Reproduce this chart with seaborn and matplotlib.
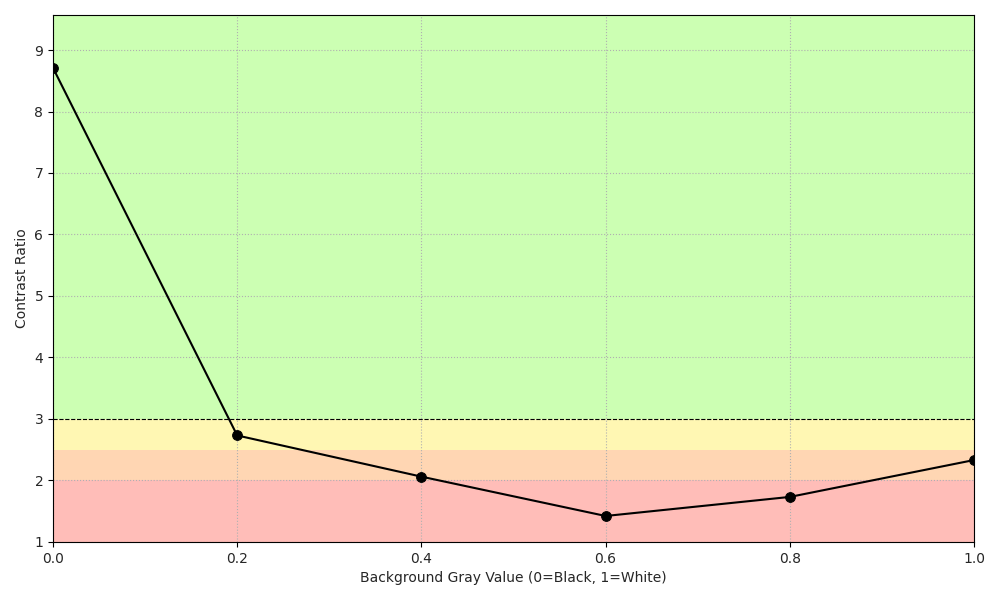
import matplotlib
matplotlib.use("Agg")
import matplotlib.pyplot as plt
import seaborn as sns
import pandas as pd

gray = [0.0, 0.2, 0.4, 0.6, 0.8, 1.0]
contrast = [8.71, 2.73, 2.06, 1.42, 1.73, 2.33]
bands = [(1, 2, "#ffbdb8"), (2, 2.5, "#ffd6b3"), (2.5, 3, "#fff7b3"), (3, 9.57, "#ccffb3")]

sns.set_style("ticks")
fig, ax = plt.subplots(figsize=(10, 6), dpi=100)
for lo, hi, c in bands:
    ax.axhspan(lo, hi, color=c, zorder=0, lw=0)
ax.axhline(3, color="black", ls="--", lw=0.8)
df = pd.DataFrame({"x": gray, "y": contrast})
sns.lineplot(data=df, x="x", y="y", ax=ax, color="black", marker="o",
             markersize=7, markeredgecolor="black", lw=1.5, zorder=3)
ax.set_xlim(0, 1)
ax.set_ylim(1, 9.57)
ax.grid(True, ls=":", color="#b0b0b0", lw=0.8)
ax.set_xlabel("Background Gray Value (0=Black, 1=White)")
ax.set_ylabel("Contrast Ratio")
for s in ax.spines.values():
    s.set_visible(True)
    s.set_color("black")
ax.tick_params(direction="out", length=3.5, color="black")
fig.subplots_adjust(left=0.053, right=0.974, bottom=0.097, top=0.975)
fig.savefig("out.png")
